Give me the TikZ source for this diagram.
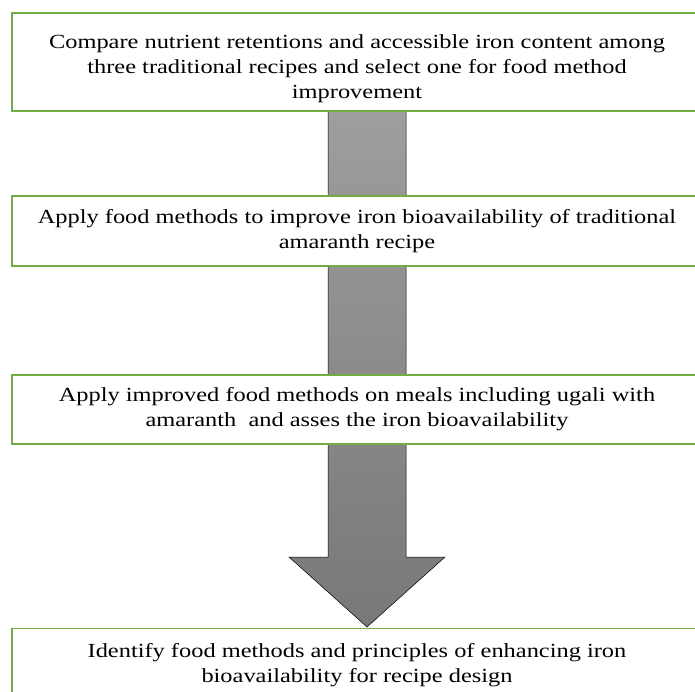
\documentclass[tikz,border=0pt]{standalone}
\usepackage{fontspec}
\setmainfont[FakeStretch=1.22]{Liberation Serif}
\usepackage{tikz}
\definecolor{boxgreen}{RGB}{112,173,71}
\definecolor{arrowtop}{RGB}{158,158,158}
\definecolor{arrowbot}{RGB}{120,120,120}

\begin{document}
\begin{tikzpicture}[x=1pt, y=-1pt,
    stepbox/.style={rectangle, draw=boxgreen, line width=1.4pt, fill=white, minimum width=690pt, inner sep=0pt, align=center, font=\fontsize{20}{25}\selectfont}]
    \clip (0,0) rectangle (695,691);

    % Big arrow behind the boxes
    \coordinate (TIP) at (367,627);
    \draw[black, line width=0.5pt, top color=arrowtop, bottom color=arrowbot]
        (328,111) -- (406,111) -- (406,557) -- (445,557) -- (TIP) -- (289,557) -- (328,557) -- cycle;

    % Steps
    \node[stepbox, minimum height=98pt] (STEP1) at (357,62) {\rule{0pt}{28pt}Compare nutrient retentions and accessible iron content among\\three traditional recipes and select one for food method\\improvement};
    \node[stepbox, minimum height=70pt] (STEP2) at (357,231) {Apply food methods to improve iron bioavailability of traditional\\amaranth recipe};
    \node[stepbox, minimum height=69pt] (STEP3) at (357,409.5) {Apply improved food methods on meals including ugali with\\amaranth\ \ and asses the iron bioavailability};
    \node[stepbox, minimum height=73pt] (STEP4) at (357,665) {Identify food methods and principles of enhancing iron\\bioavailability for recipe design};
\end{tikzpicture}
\end{document}
